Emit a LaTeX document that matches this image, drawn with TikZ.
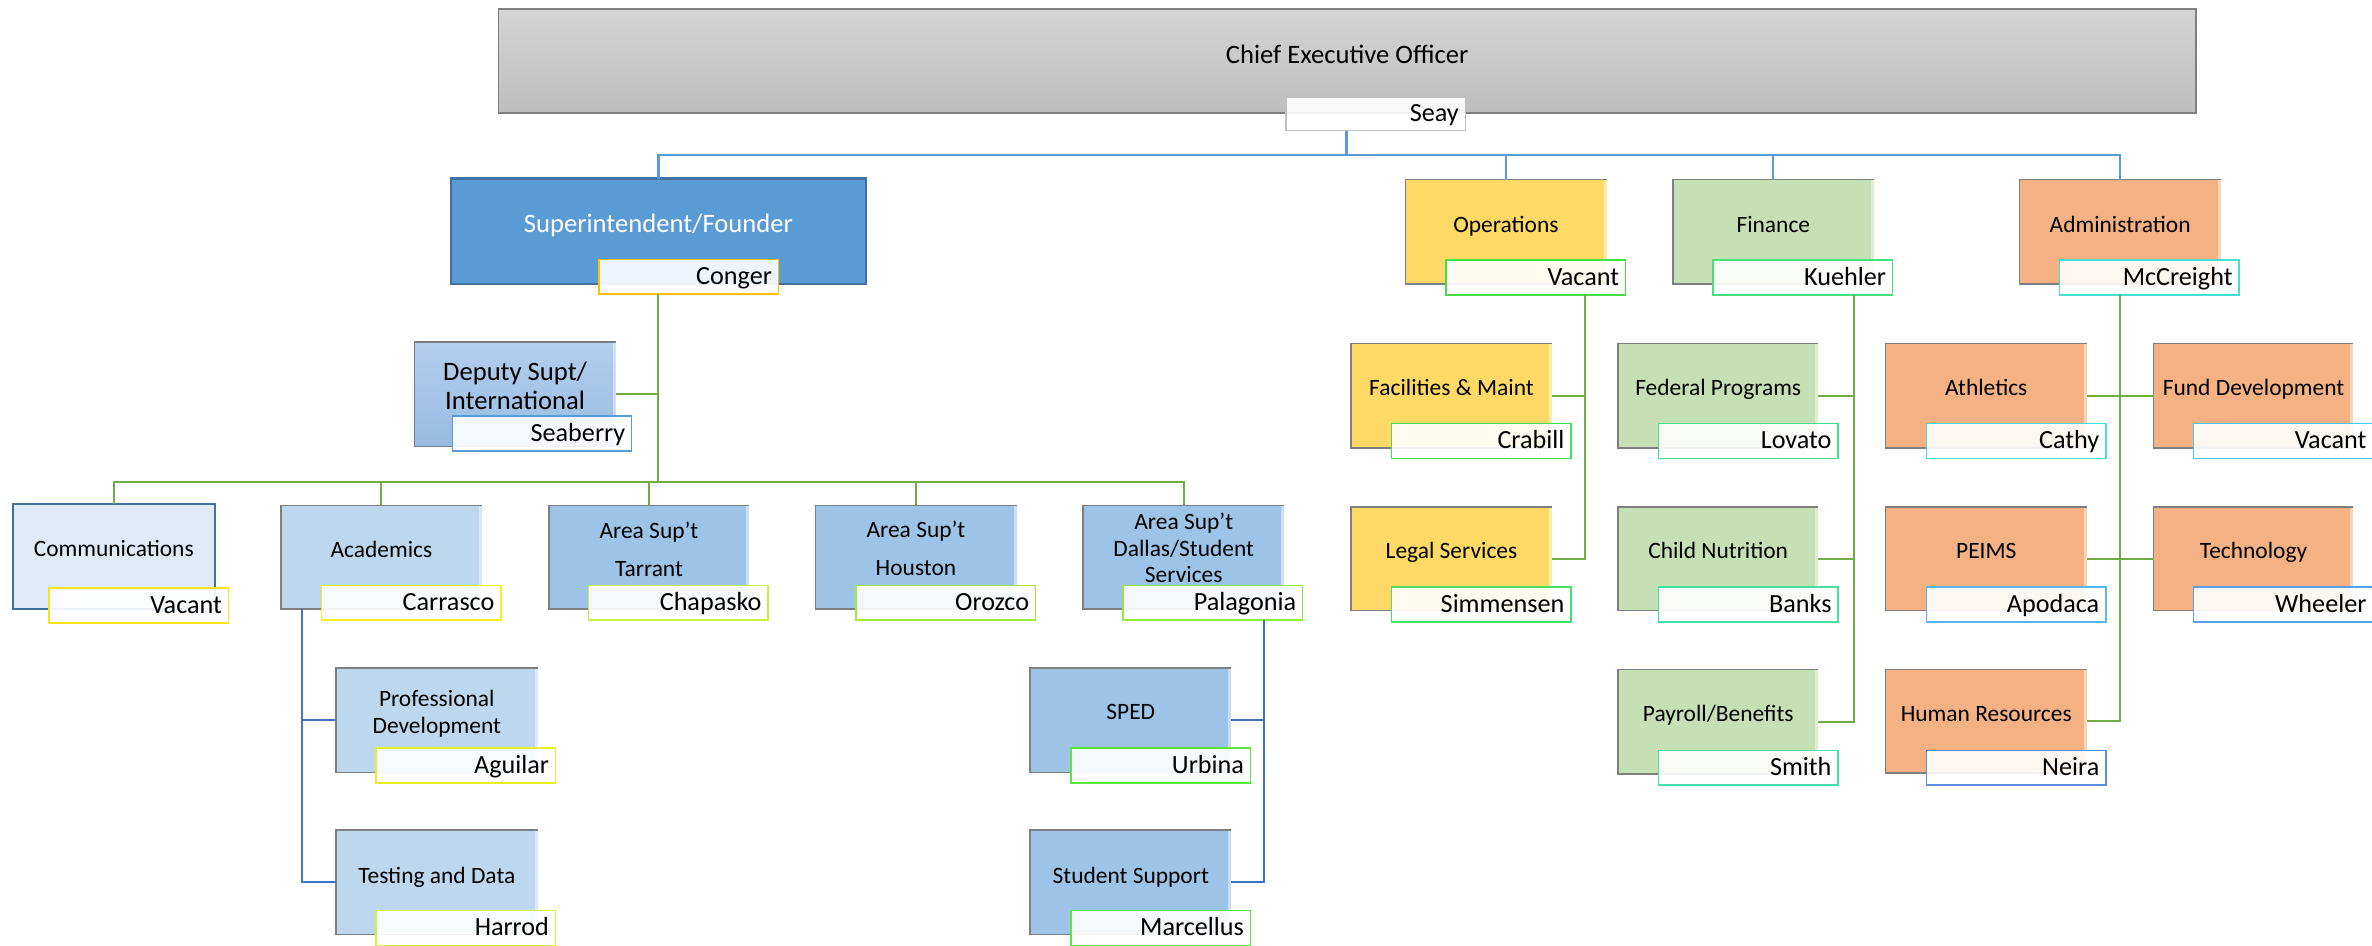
\documentclass[tikz,border=0pt]{standalone}
\usepackage{fontspec}
\setmainfont{Carlito}
\definecolor{ceoTop}{HTML}{D5D5D5}
\definecolor{ceoBot}{HTML}{BDBDBD}
\definecolor{edgeGray}{HTML}{7F7F7F}
\definecolor{supBlue}{HTML}{5B9BD5}
\definecolor{supEdge}{HTML}{41719C}
\definecolor{depTop}{HTML}{B4CEEC}
\definecolor{depBot}{HTML}{98BBE3}
\definecolor{commFill}{HTML}{DEEBF7}
\definecolor{acadFill}{HTML}{BDD7EE}
\definecolor{areaFill}{HTML}{9DC3E6}
\definecolor{opsFill}{HTML}{FFD966}
\definecolor{finFill}{HTML}{C5E0B4}
\definecolor{admFill}{HTML}{F4B183}
\definecolor{lnBlue}{HTML}{5B9BD5}
\definecolor{lnGreen}{HTML}{70AD47}
\definecolor{lnDeep}{HTML}{4472C4}
\definecolor{nSeay}{HTML}{BFBFBF}
\definecolor{nConger}{HTML}{FFC000}
\definecolor{nSeab}{HTML}{5B9BD5}
\definecolor{nComm}{HTML}{FFE31A}
\definecolor{nCarr}{HTML}{F2F21A}
\definecolor{nChap}{HTML}{C8F040}
\definecolor{nOroz}{HTML}{9FEB3C}
\definecolor{nPal}{HTML}{90EB3C}
\definecolor{nAgui}{HTML}{E6F020}
\definecolor{nHarr}{HTML}{D6F040}
\definecolor{nUrb}{HTML}{5BE83C}
\definecolor{nMarc}{HTML}{5BE83C}
\definecolor{nOvac}{HTML}{45E045}
\definecolor{nCrab}{HTML}{45E055}
\definecolor{nSimm}{HTML}{45E065}
\definecolor{nKue}{HTML}{45E07A}
\definecolor{nLov}{HTML}{45E08F}
\definecolor{nBank}{HTML}{45E0A0}
\definecolor{nSmith}{HTML}{45E0B2}
\definecolor{nMcc}{HTML}{45E0CF}
\definecolor{nCat}{HTML}{45DCE0}
\definecolor{nFvac}{HTML}{45CCEE}
\definecolor{nApod}{HTML}{5AB4EE}
\definecolor{nWhee}{HTML}{5AA0E8}
\definecolor{nNeira}{HTML}{5B8EE0}
\begin{document}
\begin{tikzpicture}[x=1pt,y=-1pt,
  box/.style={inner sep=0pt, outer sep=0pt, anchor=north west, minimum height=69pt, minimum width=133pt, fill=#1},
  boxedge/.style={draw=edgeGray, line width=1pt},
  nm/.style={draw=#1, line width=1pt, fill=white, fill opacity=0.9, text opacity=1,
     anchor=north west, minimum width=118.6pt, minimum height=23pt, text width=110pt, align=right,
     inner xsep=4.3pt, inner ysep=0pt, outer sep=0pt, text height=14.2pt, text depth=4pt,
     font=\fontsize{17.3}{20}\selectfont},
  ttl/.style={inner sep=0pt, anchor=base, align=center, font=\fontsize{15.5}{18.6}\selectfont},
  big/.style={inner sep=0pt, anchor=base, align=center, font=\fontsize{17.6}{18.6}\selectfont},
  cblue/.style={draw=lnBlue, line width=1.5pt},
  cgreen/.style={draw=lnGreen, line width=1.4pt},
  cdeep/.style={draw=lnDeep, line width=1.4pt}
]
\useasboundingbox (0,0) rectangle (1568,624.7);

% ---------- title boxes ----------
\node[box=ceoTop, top color=ceoTop, bottom color=ceoBot, draw=edgeGray, line width=1.2pt, minimum width=1122pt, minimum height=68.3pt] (ceo) at (329.5,6.2) {};
\node[box=supBlue, draw=supEdge, line width=1.5pt, minimum width=274.5pt, minimum height=69.7pt] (sup) at (298,118) {};
\node[box=opsFill] (ops) at (929,118.8) {};
\node[box=finFill, minimum width=132.5pt] (fin) at (1106,118.8) {};
\node[box=admFill] (adm) at (1335,118.8) {};

\node[box=depTop, top color=depTop, bottom color=depBot] (dep) at (274,226) {};
\node[box=opsFill] (fac) at (893,227) {};
\node[box=finFill, minimum width=132.4pt] (fed) at (1069.6,227) {};
\node[box=admFill] (ath) at (1246.5,227) {};
\node[box=admFill, minimum width=132pt] (fund) at (1423.7,227) {};

\node[box=commFill, draw=supEdge, line width=1.5pt, minimum width=133.6pt, minimum height=69.5pt] (comm) at (8.4,333) {};
\node[box=acadFill, minimum width=132.6pt, minimum height=68.5pt] (acad) at (185.8,334) {};
\node[box=areaFill, minimum width=132pt, minimum height=68.5pt] (tar) at (363,334) {};
\node[box=areaFill, minimum height=68.5pt] (hou) at (539,334) {};
\node[box=areaFill, minimum height=68.5pt] (dal) at (716,334) {};
\node[box=opsFill, minimum height=68.5pt] (legal) at (893,335) {};
\node[box=finFill, minimum width=132.4pt, minimum height=68.5pt] (child) at (1069.6,335) {};
\node[box=admFill, minimum height=68.5pt] (peims) at (1246.5,335) {};
\node[box=admFill, minimum width=132pt, minimum height=68.5pt] (tech) at (1423.7,335) {};

\node[box=acadFill, minimum width=133.5pt] (prof) at (222,441.5) {};
\node[box=areaFill] (sped) at (681,441.5) {};
\node[box=finFill, minimum width=132.4pt] (pay) at (1069.6,442.5) {};
\node[box=admFill, minimum height=68.5pt] (hr) at (1246.5,442.5) {};

\node[box=acadFill, minimum width=133.5pt] (test) at (222,548.7) {};
\node[box=areaFill] (stu) at (681,548.7) {};

\foreach \n in {dep,ops,fin,adm,fac,fed,ath,fund,acad,tar,hou,dal,legal,child,peims,tech,prof,sped,pay,hr,test,stu} {
  \fill[white, opacity=0.45] ([xshift=-2pt]\n.north east) rectangle (\n.south east);
  \draw[boxedge] (\n.north east) -- (\n.north west) -- (\n.south west) -- (\n.south east);
}

% ---------- titles (anchor = baseline of the last line) ----------
\node[big] (ceo-t) at ([yshift=-35.6pt]ceo.north) {Chief Executive Officer};
\node[big, text=white] (sup-t) at ([yshift=-35.5pt]sup.north) {Superintendent/Founder};
\node[ttl] (ops-t) at ([yshift=-35.2pt]ops.north) {Operations};
\node[ttl] (fin-t) at ([yshift=-35.2pt]fin.north) {Finance};
\node[ttl] (adm-t) at ([yshift=-35.2pt]adm.north) {Administration};
\node[big] (dep-t) at ([yshift=-44.4pt]dep.north) {Deputy Supt/\\International};
\node[ttl] (fac-t) at ([yshift=-34.7pt]fac.north) {Facilities \& Maint};
\node[ttl] (fed-t) at ([yshift=-34.7pt]fed.north) {Federal Programs};
\node[ttl] (ath-t) at ([yshift=-34.7pt]ath.north) {Athletics};
\node[ttl] (fund-t) at ([yshift=-34.7pt]fund.north) {Fund Development};
\node[ttl] (comm-t) at ([yshift=-35pt]comm.north) {Communications};
\node[ttl] (acad-t) at ([yshift=-34.7pt]acad.north) {Academics};
\node[ttl, font=\fontsize{15.5}{25}\selectfont] (tar-t) at ([yshift=-46.8pt]tar.north) {Area Sup’t\\Tarrant};
\node[ttl, font=\fontsize{15.5}{25}\selectfont] (hou-t) at ([yshift=-46.5pt]hou.north) {Area Sup’t\\Houston};
\node[ttl, font=\fontsize{15.5}{17.4}\selectfont] (dal-t) at ([yshift=-51pt]dal.north) {Area Sup’t\\Dallas/Student\\Services};
\node[ttl] (legal-t) at ([yshift=-34.2pt]legal.north) {Legal Services};
\node[ttl] (child-t) at ([yshift=-34.2pt]child.north) {Child Nutrition};
\node[ttl] (peims-t) at ([yshift=-34.2pt]peims.north) {PEIMS};
\node[ttl] (tech-t) at ([yshift=-34.2pt]tech.north) {Technology};
\node[ttl, font=\fontsize{15.5}{17.7}\selectfont] (prof-t) at ([yshift=-43.5pt]prof.north) {Professional\\Development};
\node[ttl] (sped-t) at ([yshift=-34.2pt]sped.north) {SPED};
\node[ttl] (pay-t) at ([yshift=-34.2pt]pay.north) {Payroll/Benefits};
\node[ttl] (hr-t) at ([yshift=-34.2pt]hr.north) {Human Resources};
\node[ttl] (test-t) at ([yshift=-35pt]test.north) {Testing and Data};
\node[ttl] (stu-t) at ([yshift=-35pt]stu.north) {Student Support};

% ---------- name boxes ----------
\node[nm=nSeay, minimum height=22.4pt] (seay) at (850,64) {Seay};
\node[nm=nConger] (conger) at (396,171.5) {Conger};
\node[nm=nOvac] (ovac) at (956,172) {Vacant\hspace*{12.7pt}};
\node[nm=nKue] (kue) at (1132.4,172) {Kuehler};
\node[nm=nMcc] (mcc) at (1361.5,172) {McCreight};
\node[nm=nSeab] (seab) at (299,275) {Seaberry};
\node[nm=nCrab] (crab) at (919.8,280) {Crabill};
\node[nm=nLov] (lov) at (1096.4,280) {Lovato};
\node[nm=nCat] (cat) at (1273.4,280) {Cathy};
\node[nm=nFvac] (fvac) at (1450,280) {Vacant};
\node[nm=nComm] (cvac) at (32.4,388.8) {Vacant};
\node[nm=nCarr] (carr) at (212.5,387) {Carrasco};
\node[nm=nChap] (chap) at (389,387) {Chapasko};
\node[nm=nOroz] (oroz) at (566,387) {Orozco};
\node[nm=nPal] (pal) at (742.5,387) {Palagonia};
\node[nm=nSimm] (simm) at (919.8,388) {Simmensen};
\node[nm=nBank] (bank) at (1096.4,388) {Banks};
\node[nm=nApod] (apod) at (1273.4,388) {Apodaca};
\node[nm=nWhee] (whee) at (1450,388) {Wheeler};
\node[nm=nAgui] (agui) at (248.6,494.5) {Aguilar};
\node[nm=nUrb] (urb) at (708,494.5) {Urbina};
\node[nm=nSmith] (smith) at (1096.4,496) {Smith};
\node[nm=nNeira] (neira) at (1273.4,496) {Neira};
\node[nm=nHarr] (harr) at (248.6,602) {Harrod};
\node[nm=nMarc] (marc) at (708,602) {Marcellus};

% ---------- connectors ----------
\coordinate (ceoBus) at (890,102.5);
\draw[cblue] (ceoBus |- seay.south) -- (ceoBus);
\draw[cblue] (sup.north) -- (sup.north |- ceoBus) -- (adm.north |- ceoBus) -- (adm.north);
\draw[cblue] (ops.north) -- (ops.north |- ceoBus);
\draw[cblue] (fin.north) -- (fin.north |- ceoBus);

\coordinate (supBus) at (435.25,318.4);
\draw[cgreen] (sup.center |- conger.south) -- (supBus);
\draw[cgreen] (dep.east) -- (dep.east -| supBus);
\draw[cgreen] (comm.north) -- (comm.north |- supBus) -- (dal.north |- supBus) -- (dal.north);
\draw[cgreen] (acad.north) -- (acad.north |- supBus);
\draw[cgreen] (tar.north) -- (tar.north |- supBus);
\draw[cgreen] (hou.north) -- (hou.north |- supBus);

\coordinate (acadBus) at (199.5,583);
\draw[cdeep] (acadBus |- acad.south) -- (acadBus |- test.west) -- (test.west);
\draw[cdeep] (prof.west) -- (prof.west -| acadBus);

\coordinate (dalBus) at (835.5,583);
\draw[cdeep] (dalBus |- pal.south) -- (dalBus |- stu.east) -- (stu.east);
\draw[cdeep] (sped.east) -- (sped.east -| dalBus);

\coordinate (opsBus) at (1048,0);
\draw[cgreen] (opsBus |- ovac.south) -- (opsBus |- legal.east) -- (legal.east);
\draw[cgreen] (fac.east) -- (fac.east -| opsBus);

\coordinate (finBus) at (1225.3,0);
\draw[cgreen] (finBus |- kue.south) -- (finBus |- pay.east) -- (pay.east);
\draw[cgreen] (fed.east) -- (fed.east -| finBus);
\draw[cgreen] (child.east) -- (child.east -| finBus);

\draw[cgreen] (adm.center |- mcc.south) -- (adm.center |- hr.east) -- (hr.east);
\draw[cgreen] (ath.east) -- (fund.west);
\draw[cgreen] (peims.east) -- (tech.west);
\end{tikzpicture}
\end{document}
